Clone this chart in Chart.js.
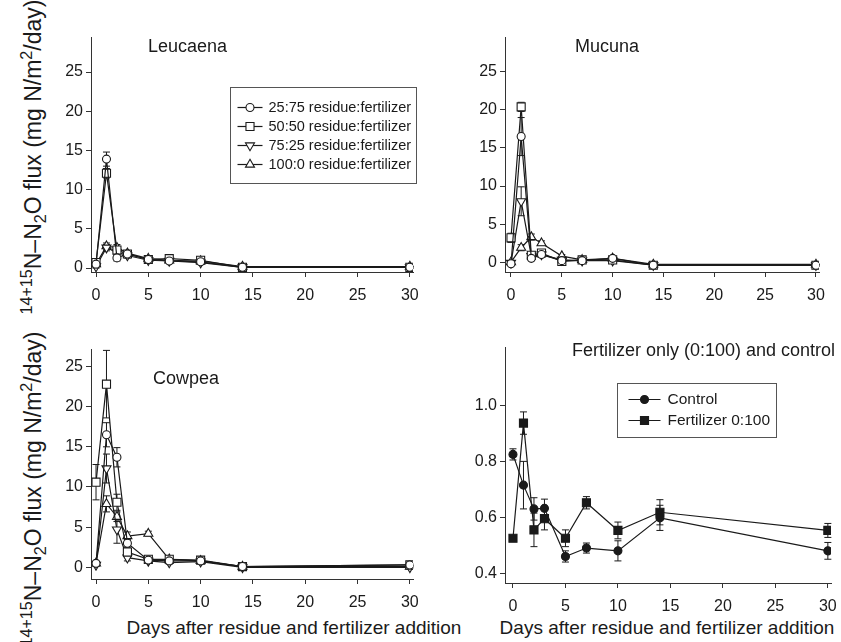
<!DOCTYPE html>
<html>
<head>
<meta charset="utf-8">
<script src="https://cdn.jsdelivr.net/npm/chart.js@4.4.0/dist/chart.umd.min.js"></script>
<style>
    body { margin: 0; width: 841px; height: 642px; position: relative; overflow: hidden; background: #fff;
           font-family: "Liberation Sans", Arial, sans-serif; color: #1a1a1a; }
    .panel { position: absolute; }
    .title { position: absolute; font-size: 18px; white-space: nowrap; transform: translateY(-50%); }
    .ytitle { position: absolute; font-size: 23px; white-space: nowrap; transform: translate(-50%, -50%) rotate(-90deg); }
    .xtitle { position: absolute; font-size: 19px; white-space: nowrap; transform: translate(-50%, -50%); }
    sup, sub { font-size: 70%; line-height: 0; }
</style>
</head>
<body>

<div class="panel" id="p1"><canvas id="leucaenaChart"></canvas></div>
<div class="panel" id="p2"><canvas id="mucunaChart"></canvas></div>
<div class="panel" id="p3"><canvas id="cowpeaChart"></canvas></div>
<div class="panel" id="p4"><canvas id="fertChart"></canvas></div>

<div class="title" style="left:148px; top:46px;">Leucaena</div>
<div class="title" style="left:575px; top:46px;">Mucuna</div>
<div class="title" style="left:153px; top:378px;">Cowpea</div>
<div class="title" style="left:572px; top:350px;">Fertilizer only (0:100) and control</div>

<div class="ytitle" style="left:33px; top:157px;"><sup>14+15</sup>N–N<sub>2</sub>O flux (mg N/m<sup>2</sup>/day)</div>
<div class="ytitle" style="left:33px; top:489px;"><sup>14+15</sup>N–N<sub>2</sub>O flux (mg N/m<sup>2</sup>/day)</div>
<div class="xtitle" style="left:294px; top:628px;">Days after residue and fertilizer addition</div>
<div class="xtitle" style="left:667px; top:628px;">Days after residue and fertilizer addition</div>

<script>
// Sampling days
const days = [0, 1, 2, 3, 5, 7, 10, 14, 30];
const xTicks = [0, 5, 10, 15, 20, 25, 30];
const fluxTicks = [0, 5, 10, 15, 20, 25];
const fertTicks = [0.4, 0.6, 0.8, 1.0];

const residueLabels = ['25:75 residue:fertilizer', '50:50 residue:fertilizer', '75:25 residue:fertilizer', '100:0 residue:fertilizer'];
const fertLabels = ['Control', 'Fertilizer 0:100'];

// Leucaena
const leu2575 = [0.5, 13.9, 1.3, 1.8, 1.1, 0.9, 0.8, 0.1, 0.1];
const leu5050 = [0.7, 12.1, 2.3, 1.8, 1.1, 1.2, 1.0, 0.1, 0.1];
const leu7525 = [0.2, 2.6, 2.0, 1.6, 1.0, 0.9, 0.7, 0.1, 0.1];
const leu1000 = [0.5, 2.8, 2.6, 1.9, 1.2, 1.0, 0.9, 0.2, 0.2];
const leu2575Err = [0.3, 0.9, 0.4, 0.3, 0.2, 0.2, 0.2, 0.1, 0.1];
const leu5050Err = [0.3, 0.6, 0.4, 0.3, 0.2, 0.3, 0.2, 0.1, 0.1];
const leu7525Err = [0.2, 0.4, 0.4, 0.3, 0.2, 0.2, 0.2, 0.1, 0.1];
const leu1000Err = [0.2, 0.4, 0.4, 0.3, 0.2, 0.2, 0.2, 0.1, 0.1];

// Mucuna
const muc2575 = [-0.2, 16.5, 0.5, 1.0, 0.2, 0.2, 0.5, -0.4, -0.4];
const muc5050 = [3.2, 20.4, 0.9, 1.2, 0.1, 0.3, 0.3, -0.4, -0.4];
const muc7525 = [-0.1, 8.0, 0.8, 1.0, 0.3, 0.2, 0.2, -0.4, -0.4];
const muc1000 = [0.0, 1.9, 3.3, 2.5, 0.8, 0.3, 0.5, -0.3, -0.3];
const muc2575Err = [0.2, 2.5, 0.3, 0.3, 0.2, 0.2, 0.2, 0.1, 0.1];
const muc5050Err = [0.6, 0.6, 0.3, 0.3, 0.2, 0.2, 0.2, 0.1, 0.1];
const muc7525Err = [0.2, 1.9, 0.3, 0.3, 0.2, 0.2, 0.2, 0.1, 0.1];
const muc1000Err = [0.2, 0.4, 0.4, 0.3, 0.2, 0.2, 0.2, 0.1, 0.1];

// Cowpea
const cow2575 = [0.5, 16.5, 13.7, 3.0, 0.9, 0.8, 0.8, 0.1, 0.3];
const cow5050 = [10.6, 22.8, 8.1, 1.9, 1.0, 1.0, 0.9, 0.1, 0.3];
const cow7525 = [0.3, 12.3, 4.7, 1.2, 0.8, 0.6, 0.7, 0.0, 0.0];
const cow1000 = [0.5, 7.9, 6.3, 3.9, 4.2, 1.0, 0.8, 0.1, 0.1];
const cow2575Err = [0.2, 1.5, 1.2, 0.5, 0.2, 0.2, 0.2, 0.1, 0.1];
const cow5050Err = [2.2, 4.2, 1.0, 0.4, 0.2, 0.2, 0.2, 0.1, 0.1];
const cow7525Err = [0.2, 1.8, 1.7, 0.4, 0.2, 0.2, 0.2, 0.1, 0.1];
const cow1000Err = [0.2, 1.0, 0.6, 0.5, 0.3, 0.2, 0.2, 0.1, 0.1];

// Fertilizer only and control
const control = [0.825, 0.715, 0.63, 0.632, 0.46, 0.49, 0.48, 0.598, 0.48];
const fert0100 = [0.525, 0.937, 0.555, 0.595, 0.525, 0.652, 0.553, 0.618, 0.553];
const controlErr = [0.02, 0.085, 0.04, 0.033, 0.02, 0.018, 0.036, 0.045, 0.03];
const fert0100Err = [0.01, 0.04, 0.06, 0.04, 0.03, 0.022, 0.03, 0.045, 0.025];

Chart.defaults.font.family = '"Liberation Sans", Arial, sans-serif';
Chart.defaults.font.size = 16;
Chart.defaults.color = '#1a1a1a';
Chart.defaults.animation = false;

const ink = '#1a1a1a';
const axisInk = '#333';

const openMarkers = [
    { style: 'circle', radius: 4, rotation: 0 },
    { style: 'rect', radius: 5.7, rotation: 0 },
    { style: 'triangle', radius: 5.2, rotation: 180 },
    { style: 'triangle', radius: 5.2, rotation: 0 }
];
const filledMarkers = [
    { style: 'circle', radius: 4, rotation: 0 },
    { style: 'rect', radius: 5.7, rotation: 0 }
];

function series(label, values, errors, marker, filled) {
    return {
        label: label,
        data: days.map((d, i) => ({ x: d, y: values[i] })),
        errors: errors,
        borderColor: ink,
        borderWidth: 1.2,
        pointStyle: marker.style,
        pointRotation: marker.rotation,
        pointRadius: marker.radius,
        pointHoverRadius: marker.radius,
        pointBorderWidth: 1.1,
        pointBorderColor: ink,
        pointBackgroundColor: filled ? ink : '#fff',
        tension: 0
    };
}

// vertical error bars with caps, drawn under the markers
const errorBars = {
    id: 'errorBars',
    beforeDatasetsDraw(chart) {
        const ctx = chart.ctx;
        const x = chart.scales.x, y = chart.scales.y;
        ctx.save();
        ctx.strokeStyle = ink;
        ctx.lineWidth = 1;
        chart.data.datasets.forEach(ds => {
            if (!ds.errors) return;
            ds.data.forEach((p, i) => {
                const e = ds.errors[i];
                const px = x.getPixelForValue(p.x);
                const top = y.getPixelForValue(p.y + e);
                const bot = y.getPixelForValue(p.y - e);
                ctx.beginPath();
                ctx.moveTo(px, top); ctx.lineTo(px, bot);
                ctx.moveTo(px - 3.5, top); ctx.lineTo(px + 3.5, top);
                ctx.moveTo(px - 3.5, bot); ctx.lineTo(px + 3.5, bot);
                ctx.stroke();
            });
        });
        ctx.restore();
    }
};

// boxed legend placed inside the plot area
const boxLegend = {
    id: 'boxLegend',
    afterDraw(chart, args, opts) {
        if (!opts.show) return;
        const ctx = chart.ctx;
        const area = chart.chartArea;
        const left = Math.round(area.left + opts.left) + 0.5;
        const top = Math.round(area.top + opts.top) + 0.5;
        ctx.save();
        ctx.fillStyle = '#fff';
        ctx.fillRect(left, top, opts.width, opts.height);
        ctx.strokeStyle = '#555';
        ctx.lineWidth = 1;
        ctx.strokeRect(left, top, opts.width, opts.height);
        ctx.font = opts.fontSize + 'px "Liberation Sans", Arial, sans-serif';
        ctx.textBaseline = 'middle';
        chart.data.datasets.forEach((ds, i) => {
            const cy = top + opts.firstRow + i * opts.rowGap;
            const x0 = left + opts.lineStart;
            ctx.strokeStyle = ink;
            ctx.lineWidth = 1.2;
            ctx.beginPath();
            ctx.moveTo(x0, cy);
            ctx.lineTo(x0 + opts.lineLen, cy);
            ctx.stroke();
            ctx.fillStyle = ds.pointBackgroundColor;
            ctx.lineWidth = ds.pointBorderWidth;
            Chart.helpers.drawPoint(ctx, {
                pointStyle: ds.pointStyle,
                rotation: ds.pointRotation,
                radius: ds.pointRadius,
                borderWidth: ds.pointBorderWidth
            }, x0 + opts.lineLen / 2, cy);
            ctx.fillStyle = ink;
            ctx.fillText(ds.label, x0 + opts.lineLen + opts.textGap, cy);
        });
        ctx.restore();
    }
};

// area = plot rectangle on the page: left, top, right, bottom
function makePanel(divId, canvasId, area, xRange, yRange, yTicks, datasets, legend, tickFmt) {
    const yAxisW = 40, xAxisH = 32, padTop = 8, padRight = 22;
    const div = document.getElementById(divId);
    div.style.left = (area.left - yAxisW) + 'px';
    div.style.top = (area.top - padTop) + 'px';
    div.style.width = (area.right + padRight - area.left + yAxisW) + 'px';
    div.style.height = (area.bottom + xAxisH - area.top + padTop) + 'px';

    return new Chart(document.getElementById(canvasId), {
        type: 'line',
        data: { datasets: datasets },
        options: {
            responsive: true,
            maintainAspectRatio: false,
            layout: { padding: { top: padTop, right: padRight, left: 0, bottom: 0 } },
            plugins: {
                legend: { display: false },
                tooltip: { enabled: false },
                boxLegend: legend
            },
            scales: {
                x: {
                    type: 'linear',
                    min: xRange[0],
                    max: xRange[1],
                    afterBuildTicks: s => { s.ticks = xTicks.map(v => ({ value: v })); },
                    afterFit: s => { s.height = xAxisH; },
                    grid: { drawOnChartArea: false, drawTicks: true, tickLength: 5, color: axisInk },
                    border: { display: true, color: axisInk, width: 1 },
                    ticks: { padding: 9, maxRotation: 0, color: ink }
                },
                y: {
                    type: 'linear',
                    min: yRange[0],
                    max: yRange[1],
                    afterBuildTicks: s => { s.ticks = yTicks.map(v => ({ value: v })); },
                    afterFit: s => { s.width = yAxisW; },
                    grid: { drawOnChartArea: false, drawTicks: true, tickLength: 5, color: axisInk },
                    border: { display: true, color: axisInk, width: 1 },
                    ticks: { padding: 3, color: ink, callback: tickFmt || (v => v) }
                }
            }
        },
        plugins: [errorBars, boxLegend]
    });
}

makePanel('p1', 'leucaenaChart', { left: 91, top: 33, right: 413, bottom: 272 },
    [-0.48, 30.3], [-0.5, 29.4], fluxTicks, [
        series(residueLabels[0], leu2575, leu2575Err, openMarkers[0], false),
        series(residueLabels[1], leu5050, leu5050Err, openMarkers[1], false),
        series(residueLabels[2], leu7525, leu7525Err, openMarkers[2], false),
        series(residueLabels[3], leu1000, leu1000Err, openMarkers[3], false)
    ],
    { show: true, left: 139, top: 49, width: 186, height: 96, firstRow: 20, rowGap: 19,
      lineStart: 7, lineLen: 25, textGap: 6, fontSize: 14.5 });

makePanel('p2', 'mucunaChart', { left: 505, top: 33, right: 819, bottom: 272 },
    [-0.59, 30.3], [-1.29, 29.5], fluxTicks, [
        series(residueLabels[0], muc2575, muc2575Err, openMarkers[0], false),
        series(residueLabels[1], muc5050, muc5050Err, openMarkers[1], false),
        series(residueLabels[2], muc7525, muc7525Err, openMarkers[2], false),
        series(residueLabels[3], muc1000, muc1000Err, openMarkers[3], false)
    ], { show: false });

makePanel('p3', 'cowpeaChart', { left: 91, top: 345, right: 413, bottom: 579 },
    [-0.48, 30.3], [-1.45, 27.1], fluxTicks, [
        series(residueLabels[0], cow2575, cow2575Err, openMarkers[0], false),
        series(residueLabels[1], cow5050, cow5050Err, openMarkers[1], false),
        series(residueLabels[2], cow7525, cow7525Err, openMarkers[2], false),
        series(residueLabels[3], cow1000, cow1000Err, openMarkers[3], false)
    ], { show: false });

makePanel('p4', 'fertChart', { left: 505, top: 343, right: 831, bottom: 583 },
    [-0.76, 30.3], [0.365, 1.207], fertTicks, [
        series(fertLabels[0], control, controlErr, filledMarkers[0], true),
        series(fertLabels[1], fert0100, fert0100Err, filledMarkers[1], true)
    ],
    { show: true, left: 112, top: 35, width: 159, height: 54, firstRow: 16, rowGap: 21,
      lineStart: 11, lineLen: 32, textGap: 7, fontSize: 15.5 },
    v => v.toFixed(1));
</script>
</body>
</html>
